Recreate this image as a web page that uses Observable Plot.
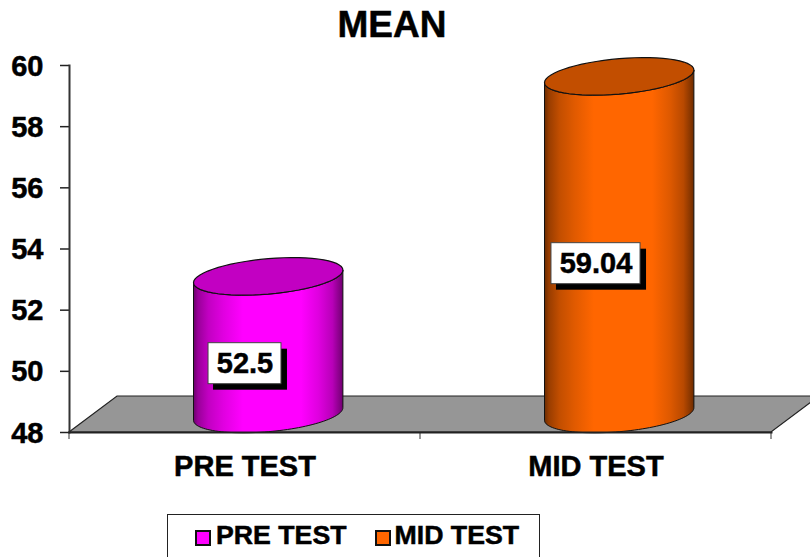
<!DOCTYPE html>
<html>
<head>
<meta charset="utf-8">
<script src="https://cdn.jsdelivr.net/npm/d3@7"></script>
<script src="https://cdn.jsdelivr.net/npm/@observablehq/plot@0.6"></script>
<style>
  html, body { margin: 0; padding: 0; background: #fff; }
  #page { width: 810px; height: 557px; overflow: hidden; position: relative; font-family: "Liberation Sans", Arial, sans-serif; font-weight: bold; color: #000; }
  #title { height: 48px; width: 784px; text-align: center; font-size: 37px; line-height: 50px; -webkit-text-stroke: .5px #000; }
  #chart svg { display: block; overflow: visible; }
  #chart svg text { stroke: #000; stroke-width: .5px; }
  #legend { position: absolute; left: 166.5px; top: 513.5px; width: 373px; height: 60px; box-sizing: border-box; border: 1px solid #222; }
  .key { position: absolute; top: 2px; font-size: 26.7px; line-height: 37px; white-space: nowrap; -webkit-text-stroke: .5px #000; }
  .swatch { position: absolute; top: 15px; width: 12px; height: 12px; border: 2px solid #111; }
</style>
</head>
<body>
<div id="page">
  <div id="title"></div>
  <div id="chart"></div>
  <div id="legend"></div>
</div>
<script>
const chartTitle = "MEAN";
const categories = ["PRE TEST", "MID TEST"];
const means = [52.5, 59.04];
const barColors = ["#ff00ff", "#ff6600"];
const yTicks = [48, 50, 52, 54, 56, 58, 60];
const yBase = 48;
const yTop = 60;

const rows = categories.map((name, i) => ({name, mean: means[i], base: yBase}));

const FONT = "Liberation Sans, Arial, sans-serif";
const DEPTH_X = 48, DEPTH_Y = 36;

function shade(color, k) {
  const c = d3.rgb(color);
  return d3.rgb(c.r * k, c.g * k, c.b * k).formatHex();
}

// The ellipse of a cylinder end, tilted by the chart's pseudo-3D view.
const RX = 74.7, TILT = 6.3, RY = 17.7;
const ex = (cx, t) => cx + RX * Math.cos(t);
const ey = (cy, t) => cy - TILT * Math.cos(t) + RY * Math.sin(t);
function arc(cx, cy, t0, t1, move) {
  const n = 60;
  let s = "";
  for (let k = 0; k <= n; k++) {
    const t = t0 + (t1 - t0) * k / n;
    s += (k === 0 && move ? "M" : "L") + ex(cx, t).toFixed(2) + "," + ey(cy, t).toFixed(2);
  }
  return s;
}

function floorMark(index, scales, values, dims, context) {
  const g = d3.select(context.document.createElementNS("http://www.w3.org/2000/svg", "g"));
  const [x0, x1] = scales.x.range();
  const y0 = scales.y(yBase);
  g.append("path")
    .attr("d", `M${x0},${y0}L${x0 + DEPTH_X},${y0 - DEPTH_Y}L${x1 + DEPTH_X},${y0 - DEPTH_Y}L${x1},${y0}Z`)
    .attr("fill", "#969696").attr("stroke", "#222").attr("stroke-width", 1.2);
  // category boundary ticks
  categories.concat([null]).forEach((c, i) => {
    const x = x0 + i * scales.x.step();
    g.append("line").attr("x1", x).attr("x2", x).attr("y1", y0).attr("y2", y0 + 7)
      .attr("stroke", "#333").attr("stroke-width", 1);
  });
  return g.node();
}

function cylinders(index, scales, values, dims, context) {
  const g = d3.select(context.document.createElementNS("http://www.w3.org/2000/svg", "g"));
  const defs = g.append("defs");
  const bw = scales.x.bandwidth();
  for (const i of index) {
    const cx = values.x[i] + bw / 2 + DEPTH_X / 2 - 0.3;
    const yb = values.y1[i] - DEPTH_Y / 2;
    const yt = values.y2[i] - DEPTH_Y / 2;
    const color = values.fill[i];
    const id = "cyl" + i;
    const grad = defs.append("linearGradient").attr("id", id);
    [[0, .42], [.03, .6], [.1, .76], [.2, .88], [.33, 1], [.72, 1], [.84, .87], [.93, .72], [.98, .52], [1, .42]].forEach(([o, k]) =>
      grad.append("stop").attr("offset", o).attr("stop-color", shade(color, k)));
    g.append("path")
      .attr("d", arc(cx, yb, Math.PI, 0, true) + "L" + ex(cx, 0) + "," + ey(yt, 0) + arc(cx, yt, 0, Math.PI, false) + "Z")
      .attr("fill", `url(#${id})`).attr("stroke", "#111").attr("stroke-width", 1);
    g.append("path")
      .attr("d", arc(cx, yt, 0, 2 * Math.PI, true) + "Z")
      .attr("fill", shade(color, .76)).attr("stroke", "#111").attr("stroke-width", 1.2);
  }
  return g.node();
}

const measure = document.createElement("canvas").getContext("2d");
function labelBoxes(index, scales, values, dims, context, next) {
  const g = d3.select(context.document.createElementNS("http://www.w3.org/2000/svg", "g"));
  const bw = scales.x.bandwidth();
  measure.font = `bold 29px "Liberation Sans"`;
  for (const i of index) {
    const w = measure.measureText(String(rows[i].mean)).width + 16.5;
    const h = 41;
    const x = values.x[i] + bw / 2 - w / 2;
    const y = values.y[i] - h / 2;
    g.append("rect").attr("x", x + 5).attr("y", y + 6).attr("width", w + 1).attr("height", h).attr("fill", "#000");
    g.append("rect").attr("x", x).attr("y", y).attr("width", w).attr("height", h)
      .attr("fill", "#fff").attr("stroke", "#444").attr("stroke-width", 1);
  }
  g.node().appendChild(next(index, scales, values, dims, context));
  return g.node();
}

const plot = Plot.plot({
  width: 810,
  height: 465,
  marginLeft: 69,
  marginRight: 39,
  marginTop: 17,
  marginBottom: 81,
  style: {background: "transparent", fontFamily: FONT, color: "#000"},
  x: {domain: categories, padding: 0, label: null},
  y: {domain: [yBase, yTop], label: null},
  color: {domain: categories, range: barColors},
  marks: [
    floorMark,
    Plot.barY(rows, {x: "name", y1: "base", y2: "mean", fill: "name", render: cylinders}),
    Plot.axisY({ticks: yTicks, tickSize: 9, tickFormat: () => "", stroke: "#222", strokeWidth: 1.5, label: null, marginLeft: 69}),
    Plot.axisY({ticks: yTicks, tickSize: 0, tickPadding: 26, dy: 0.8, tickFormat: d => String(d), fontSize: 29, fontWeight: "bold", label: null, marginLeft: 69}),
    Plot.axisX({tickSize: 0, tickPadding: 23, fontSize: 29, fontWeight: "bold", label: null, marginBottom: 81}),
    Plot.frame({anchor: "left", stroke: "#333", strokeWidth: 2}),
    Plot.frame({anchor: "bottom", stroke: "#222", strokeWidth: 2}),
    Plot.text(rows, {
      x: "name",
      y: d => (d.base + d.mean) / 2,
      text: d => String(d.mean),
      fontSize: 29,
      fontWeight: "bold",
      fill: "#000",
      render: labelBoxes
    })
  ]
});
document.getElementById("chart").appendChild(plot);
document.getElementById("title").textContent = chartTitle;

const legend = d3.select("#legend");
const swatchLeft = [27.5, 207.5];
const textLeft = [48.5, 227];
categories.forEach((name, i) => {
  legend.append("div").attr("class", "swatch").style("left", swatchLeft[i] + "px").style("background", barColors[i]);
  legend.append("div").attr("class", "key").style("left", textLeft[i] + "px").text(name);
});
</script>
</body>
</html>
